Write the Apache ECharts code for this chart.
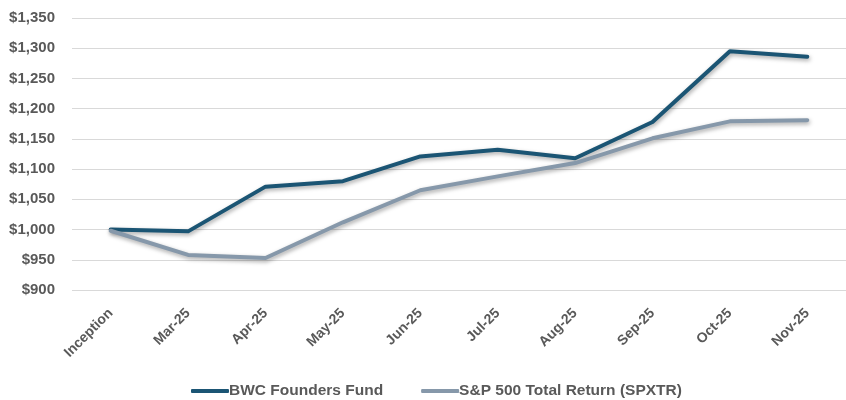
<!DOCTYPE html>
<html>
<head>
<meta charset="utf-8">
<script src="https://cdn.jsdelivr.net/npm/echarts@6/dist/echarts.min.js"></script>
<style>
  html, body { margin: 0; padding: 0; background: #fff; }
  #chart { width: 846px; height: 400px; }
</style>
</head>
<body>
<div id="chart"></div>
<script>
const categories = ['Inception', 'Mar-25', 'Apr-25', 'May-25', 'Jun-25', 'Jul-25', 'Aug-25', 'Sep-25', 'Oct-25', 'Nov-25'];
const bwcFund = [1000, 997, 1071, 1080, 1121, 1132, 1118, 1178, 1295, 1286];
const spxtr = [998, 958, 953, 1012, 1065, 1088, 1110, 1151, 1179, 1181];
const yTicks = { min: 900, max: 1350, step: 50 };

const chart = echarts.init(document.getElementById('chart'));

function lineSeries(name, data, color) {
  return {
    name: name,
    type: 'line',
    data: data,
    symbol: 'none',
    lineStyle: {
      color: color,
      width: 4,
      cap: 'round',
      join: 'round',
      shadowColor: 'rgba(0,0,0,0.35)',
      shadowBlur: 4,
      shadowOffsetX: 1,
      shadowOffsetY: 2
    },
    itemStyle: { color: color }
  };
}

chart.setOption({
  animation: false,
  grid: { left: 72, right: 0, top: 18, bottom: 110 },
  legend: {
    top: 378,
    left: 186,
    itemWidth: 38,
    itemHeight: 4,
    itemGap: 38,
    icon: 'roundRect',
    textStyle: {
      color: '#595959',
      fontWeight: 'bold',
      fontSize: 15.5,
      fontFamily: 'Liberation Sans, sans-serif',
      padding: [0, 0, 0, -5]
    }
  },
  xAxis: {
    type: 'category',
    data: categories,
    boundaryGap: true,
    axisLine: { show: false },
    axisTick: { show: false },
    axisLabel: {
      rotate: 45,
      color: '#595959',
      fontWeight: 'bold',
      fontSize: 14,
      fontFamily: 'Liberation Sans, sans-serif',
      margin: 21
    }
  },
  yAxis: {
    type: 'value',
    min: yTicks.min,
    max: yTicks.max,
    interval: yTicks.step,
    axisLine: { show: false },
    axisTick: { show: false },
    splitLine: { lineStyle: { color: '#d9d9d9', width: 1 } },
    axisLabel: {
      color: '#595959',
      fontWeight: 'bold',
      fontSize: 15,
      fontFamily: 'Liberation Sans, sans-serif',
      margin: 17,
      formatter: v => '$' + v.toLocaleString('en-US')
    }
  },
  series: [
    lineSeries('BWC Founders Fund', bwcFund, '#1b5574'),
    lineSeries('S&P 500 Total Return (SPXTR)', spxtr, '#8698aa')
  ]
});
</script>
</body>
</html>
